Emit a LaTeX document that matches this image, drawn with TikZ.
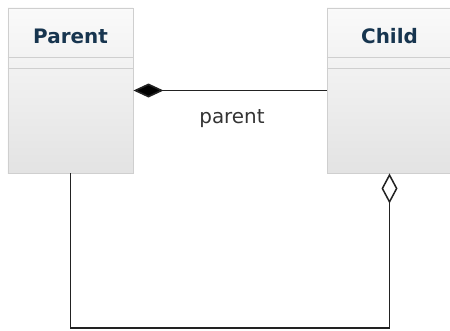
\documentclass[tikz,border=0pt]{standalone}
\usepackage{fontspec}
\setmainfont{DejaVu Sans}
\usetikzlibrary{arrows.meta}
\definecolor{boxLine}{HTML}{CFCFCF}
\definecolor{titleText}{HTML}{17354F}
\definecolor{wireGray}{HTML}{222222}

\tikzset{
  classbox/.style={draw=boxLine, line width=0.8pt, minimum width=3.75cm, minimum height=4.95cm,
    top color=white!98!black, bottom color=black!11, inner sep=0pt},
  classname/.style={font=\fontsize{17}{19}\selectfont\bfseries, text=titleText},
  rolename/.style={font=\fontsize{17}{19}\selectfont, text=black!80},
  wire/.style={draw=wireGray, line width=1.4pt},
}

\begin{document}
\begin{tikzpicture}[x=0.03cm, y=-0.03cm]

    \useasboundingbox (0,0) rectangle (450,330);

    % classes
    \node[classbox] (parent) at (70.5,90.5) {};
    \node[classbox] (child) at (389.5,90.5) {};
    \node[classname] (parentname) at (70.5,36) {Parent};
    \node[classname] (childname) at (389.5,36) {Child};

    % compartment lines
    \foreach \c in {parent,child} {
        \draw[boxLine, line width=0.8pt] (\c.west |- 0,57) -- (\c.east |- 0,57);
        \draw[boxLine, line width=0.8pt] (\c.west |- 0,68) -- (\c.east |- 0,68);
    }

    % composition
    \draw[wire, {Diamond[length=0.9cm, width=0.42cm, fill=black]}-] (parent.east) -- (child.west);
    \node[rolename] (role) at (232,119) {parent};

    % aggregation
    \coordinate (bend) at (389.5,328);
    \draw[wire, {Diamond[open, length=0.9cm, width=0.48cm, line width=1.3pt]}-] (child.south) -- (bend) -| (parent.south);

\end{tikzpicture}
\end{document}
